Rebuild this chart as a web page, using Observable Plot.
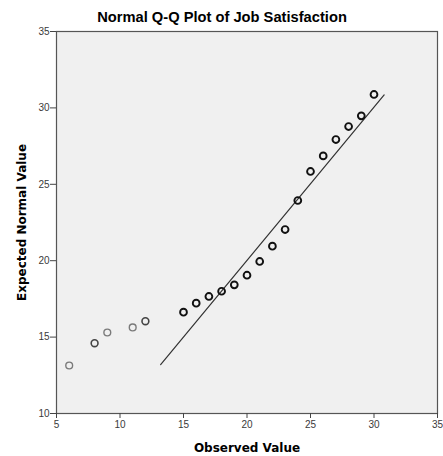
<!DOCTYPE html>
<html>
<head>
<meta charset="utf-8">
<script src="https://cdn.jsdelivr.net/npm/d3@7"></script>
<script src="https://cdn.jsdelivr.net/npm/@observablehq/plot@0.6"></script>
<style>
  body { margin: 0; background: #fff; }
</style>
</head>
<body>
<div id="chart"></div>
<script>
const title = "Normal Q-Q Plot of Job Satisfaction";
const xLabel = "Observed Value";
const yLabel = "Expected Normal Value";
const observed = [6, 8, 9, 11, 12, 15, 16, 17, 18, 19, 20, 21, 22, 23, 24, 25, 26, 27, 28, 29, 30];
const expected = [13.14, 14.6, 15.3, 15.63, 16.04, 16.63, 17.22, 17.66, 18.0, 18.42, 19.05, 19.95, 20.95, 22.04, 23.94, 25.84, 26.86, 27.93, 28.78, 29.48, 30.88];
const counts = [1, 2, 1, 1, 2, 3, 3, 3, 3, 3, 3, 3, 3, 3, 3, 3, 3, 3, 3, 3, 3];
const refX = [13.2, 30.8];
const refY = [13.2, 30.85];
const xTicks = [5, 10, 15, 20, 25, 30, 35];
const yTicks = [10, 15, 20, 25, 30, 35];

const points = observed.map((x, i) => ({x, y: expected[i], n: counts[i]}));
const refLine = refX.map((x, i) => ({x, y: refY[i]}));

const labelFont = "'DejaVu Sans', Verdana, sans-serif";
const dotStroke = n => n >= 3 ? "#111" : n === 2 ? "#444" : "#7a7a7a";
const dotWidth = n => n >= 3 ? 1.9 : n === 2 ? 1.6 : 1.4;

const chart = Plot.plot({
  width: 443,
  height: 456,
  marginTop: 31,
  marginBottom: 43,
  marginLeft: 56,
  marginRight: 6,
  style: {fontFamily: "'Liberation Sans', Arial, sans-serif", background: "#fff", color: "#333"},
  x: {domain: [5, 35]},
  y: {domain: [10, 35]},
  marks: [
    Plot.frame({fill: "#f0f0f0"}),
    Plot.line(refLine, {x: "x", y: "y", stroke: "#333", strokeWidth: 1.2}),
    Plot.dot(points, {
      x: "x", y: "y", r: 3.4, fill: "none",
      stroke: d => dotStroke(d.n),
      strokeWidth: d => dotWidth(d.n)
    }),
    Plot.frame({stroke: "#555", strokeWidth: 1.2}),
    Plot.axisX({ticks: xTicks, tickSize: 5, tickPadding: 2, fontSize: 10, label: null, stroke: "#444", color: "#3a3a3a"}),
    Plot.axisY({ticks: yTicks, tickSize: 6, tickPadding: 1, fontSize: 10, label: null, stroke: "#444", color: "#3a3a3a"}),
    Plot.text([title], {frameAnchor: "top", dx: -25, dy: -14, lineAnchor: "middle", fontWeight: "bold", fontSize: 14.7, fill: "#000"}),
    Plot.text([xLabel], {frameAnchor: "bottom", dy: 35, lineAnchor: "middle", textAnchor: "middle", fontWeight: "bold", fontSize: 12, fontFamily: labelFont, fill: "#000"}),
    Plot.text([yLabel], {frameAnchor: "left", dx: -34, rotate: -90, lineAnchor: "middle", textAnchor: "middle", fontWeight: "bold", fontSize: 12, fontFamily: labelFont, fill: "#000"})
  ]
});
document.getElementById("chart").appendChild(chart);
</script>
</body>
</html>
